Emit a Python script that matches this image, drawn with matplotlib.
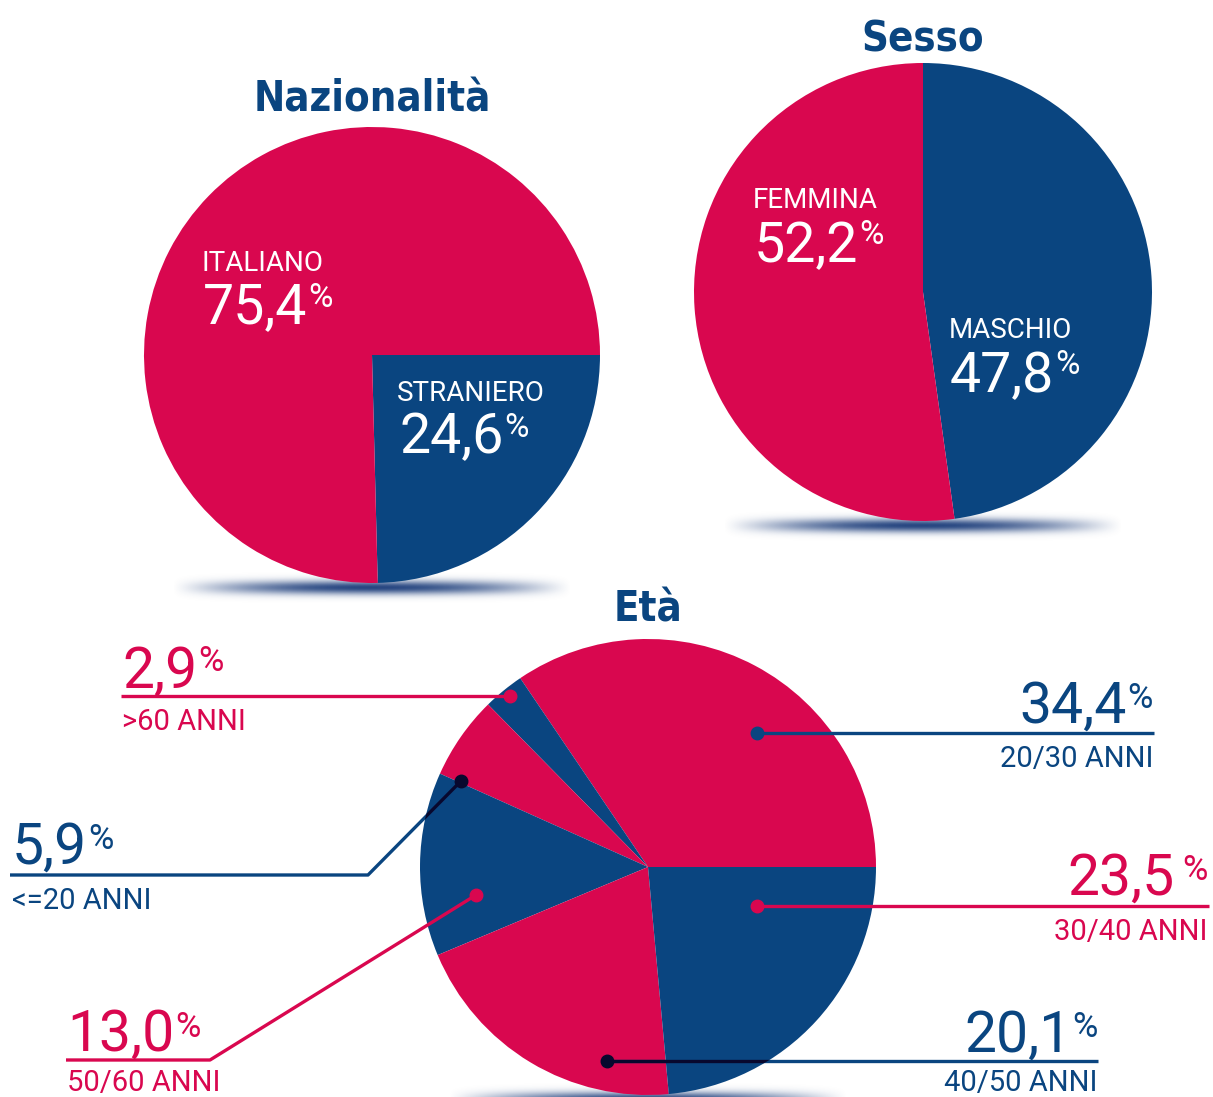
import numpy as np
import matplotlib
matplotlib.use("Agg")
import matplotlib.pyplot as plt
from matplotlib.patches import Circle
from matplotlib import font_manager as fm

# ---------------- data ----------------
naz_labels = ["STRANIERO", "ITALIANO"]
naz_values = [24.6, 75.4]

sesso_labels = ["MASCHIO", "FEMMINA"]
sesso_values = [47.8, 52.2]

eta_labels = ["20/30 ANNI", ">60 ANNI", "<=20 ANNI", "50/60 ANNI", "40/50 ANNI", "30/40 ANNI"]
eta_values = [34.4, 2.9, 5.9, 13.0, 20.1, 23.5]

titles = ["Nazionalità", "Sesso", "Età"]

# ---------------- style ----------------
PINK = "#D9074F"
BLUE = "#0A4580"
DARK = "#08082E"
W, H = 1213, 1097
TSIZE = 30

plt.rcParams['font.family'] = ['Roboto', 'DejaVu Sans']

# pick a condensed bold font for the titles if one is installed
cands = []
for f in fm.fontManager.ttflist:
    nm = f.name.lower()
    st = str(f.stretch).lower()
    if ('narrow' in nm or 'condensed' in nm or 'condensed' in st) and \
            (f.weight in ('bold', 700) or (isinstance(f.weight, int) and f.weight >= 600)
             or 'bold' in f.fname.lower()):
        cands.append(f)
pref = None
for key in ['liberation sans narrow', 'dejavu sans']:
    for f in cands:
        if key in f.name.lower():
            pref = f
            break
    if pref:
        break
if pref is None and cands:
    pref = cands[0]
if pref is not None:
    title_kw = dict(fontproperties=fm.FontProperties(fname=pref.fname, size=TSIZE))
else:
    title_kw = dict(family=['Roboto', 'DejaVu Sans'], fontweight='bold', fontsize=TSIZE,
                    fontstretch='condensed')

fig = plt.figure(figsize=(W / 100, H / 100), dpi=100)
ax = fig.add_axes([0, 0, 1, 1])


def Y(py):
    return H - py


def fmt(v):
    return f"{v:.1f}".replace('.', ',')


def shadow(cx, cy, a, sy, zorder=0):
    xs = np.linspace(-1.1, 1.1, 400)
    ys = np.linspace(-4, 4, 80)
    XX, YY = np.meshgrid(xs, ys)
    fx = np.clip(1 - XX ** 2, 0, 1) ** 1.2
    fy = np.exp(-YY ** 2 / 2)
    alpha = 0.95 * fx * fy
    img = np.zeros((len(ys), len(xs), 4))
    rgb = matplotlib.colors.to_rgb("#1B3C7A")
    img[..., 0], img[..., 1], img[..., 2] = rgb
    img[..., 3] = alpha
    ax.imshow(img, extent=(cx - 1.1 * a, cx + 1.1 * a, Y(cy) - 4 * sy, Y(cy) + 4 * sy),
              aspect='auto', zorder=zorder, interpolation='bilinear')


def pct_left(x, base_y, top_y, num, color, size, psize, gap=0.5):
    t = ax.text(x, Y(base_y), num, ha='left', va='baseline', color=color, fontsize=size, zorder=5)
    ax.annotate('%', xy=(1, Y(top_y)), xycoords=(t, 'data'), xytext=(gap, 0),
                textcoords='offset points', ha='left', va='top', color=color,
                fontsize=psize, zorder=5)
    return t


def pct_right(x, base_y, top_y, num, color, size, psize, gap=0.5):
    p = ax.text(x, Y(top_y), '%', ha='right', va='top', color=color, fontsize=psize, zorder=5)
    ax.annotate(num, xy=(0, Y(base_y)), xycoords=(p, 'data'), xytext=(-gap, 0),
                textcoords='offset points', ha='right', va='baseline', color=color,
                fontsize=size, zorder=5)


# ---------------- shadows ----------------
shadow(372, 588, 200, 4.8)
shadow(923, 526, 200, 4.8)
shadow(648, 1099, 200, 4.8)

# ---------------- pies ----------------
c1, r1 = (372, 355), 228
c2, r2 = (923, 292), 229
c3, r3 = (648, 867), 228

ax.pie(naz_values, colors=[BLUE, PINK], startangle=0, counterclock=False,
       center=(c1[0], Y(c1[1])), radius=r1, wedgeprops=dict(linewidth=0, zorder=2))
ax.pie(sesso_values, colors=[BLUE, PINK], startangle=90, counterclock=False,
       center=(c2[0], Y(c2[1])), radius=r2, wedgeprops=dict(linewidth=0, zorder=2))
ax.pie(eta_values, colors=[PINK, BLUE, PINK, BLUE, PINK, BLUE], startangle=0,
       counterclock=True, center=(c3[0], Y(c3[1])), radius=r3,
       wedgeprops=dict(linewidth=0, zorder=2))

# ---------------- titles ----------------
ax.text(372, Y(99), titles[0], ha='center', va='center', color=BLUE, zorder=5, **title_kw)
ax.text(923, Y(39), titles[1], ha='center', va='center', color=BLUE, zorder=5, **title_kw)
ax.text(648, Y(609), titles[2], ha='center', va='center', color=BLUE, zorder=5, **title_kw)

# ---------------- pie labels (white) ----------------
BIG, SMALL, PSZ = 40, 20, 24
ax.text(202, Y(271), naz_labels[1], color='white', fontsize=SMALL, ha='left', va='baseline', zorder=5)
pct_left(203, 323, 282, fmt(naz_values[1]), 'white', BIG, PSZ)
ax.text(397, Y(401), naz_labels[0], color='white', fontsize=SMALL, ha='left', va='baseline', zorder=5)
pct_left(399, 453, 412, fmt(naz_values[0]), 'white', BIG, PSZ)

ax.text(753, Y(208), sesso_labels[1], color='white', fontsize=SMALL, ha='left', va='baseline', zorder=5)
pct_left(754, 262, 219, fmt(sesso_values[1]), 'white', BIG, PSZ)
ax.text(949, Y(338), sesso_labels[0], color='white', fontsize=SMALL, ha='left', va='baseline', zorder=5)
pct_left(950, 392, 349, fmt(sesso_values[0]), 'white', BIG, PSZ)

# ---------------- età callouts ----------------
clip3 = Circle((c3[0], Y(c3[1])), r3, transform=ax.transData)
LW = 2.4
DOT = 9
ENUM, EPCT, EANNI = 41, 25, 21

callouts = {
    "20/30 ANNI": dict(col=BLUE, path=[(757, 733), (1154, 733)], dot=(757, 733), dotc=BLUE,
                       x=1153, align='right', nb=723, pt=682, ab=767),
    ">60 ANNI": dict(col=PINK, path=[(121, 696), (510, 696)], dot=(510, 696), dotc=PINK,
                     x=122, align='left', nb=688, pt=645, ab=730),
    "<=20 ANNI": dict(col=BLUE, path=[(10, 875), (368, 875), (461, 781)], dot=(461, 781),
                      dotc=DARK, x=12, align='left', nb=864, pt=823, ab=909, dark=True),
    "50/60 ANNI": dict(col=PINK, path=[(66, 1060), (210, 1060), (476, 895)], dot=(476, 895),
                       dotc=PINK, x=67, align='left', nb=1051, pt=1011, ab=1091),
    "40/50 ANNI": dict(col=BLUE, path=[(607, 1061), (1098, 1061)], dot=(607, 1061),
                       dotc=DARK, x=1098, align='right', nb=1052, pt=1011, ab=1091, dark=True),
    "30/40 ANNI": dict(col=PINK, path=[(757, 906), (1209, 906)], dot=(757, 906), dotc=PINK,
                       x=1208, align='right', nb=895, pt=854, ab=940, gap=6),
}

for lab, val in zip(eta_labels, eta_values):
    c = callouts[lab]
    px = [p[0] for p in c['path']]
    py = [Y(p[1]) for p in c['path']]
    ax.plot(px, py, color=c['col'], lw=LW, solid_capstyle='butt', zorder=4)
    if c.get('dark'):
        ln, = ax.plot(px, py, color=DARK, lw=LW, solid_capstyle='butt', zorder=4.5)
        ln.set_clip_path(clip3)
    ax.plot([c['dot'][0]], [Y(c['dot'][1])], 'o', color=c['dotc'], ms=DOT, zorder=6)
    num = fmt(val)
    if c['align'] == 'left':
        pct_left(c['x'], c['nb'], c['pt'], num, c['col'], ENUM, EPCT, gap=c.get('gap', 0.5))
        ax.text(c['x'], Y(c['ab']), lab, color=c['col'], fontsize=EANNI, ha='left',
                va='baseline', zorder=5)
    else:
        pct_right(c['x'], c['nb'], c['pt'], num, c['col'], ENUM, EPCT, gap=c.get('gap', 0.5))
        ax.text(c['x'], Y(c['ab']), lab, color=c['col'], fontsize=EANNI, ha='right',
                va='baseline', zorder=5)

ax.set_xlim(0, W)
ax.set_ylim(0, H)
ax.set_aspect('auto')
ax.axis('off')
fig.savefig("out.png", dpi=100)
